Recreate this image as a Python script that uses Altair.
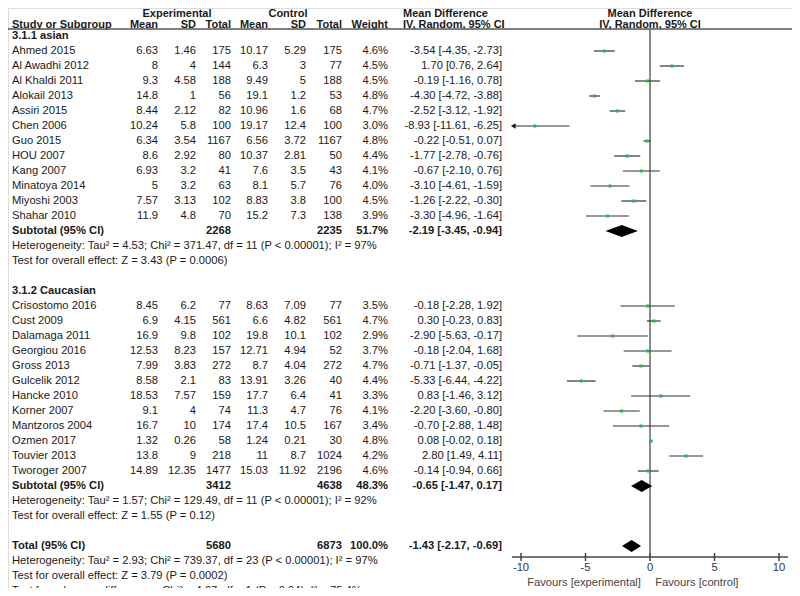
import altair as alt
import pandas as pd

# ---------------- data ----------------
asian_names = ["Ahmed 2015", "Al Awadhi 2012", "Al Khaldi 2011", "Alokail 2013", "Assiri 2015",
               "Chen 2006", "Guo 2015", "HOU 2007", "Kang 2007", "Minatoya 2014", "Miyoshi 2003", "Shahar 2010"]
asian_exp_mean = [6.63, 8, 9.3, 14.8, 8.44, 10.24, 6.34, 8.6, 6.93, 5, 7.57, 11.9]
asian_exp_sd = [1.46, 4, 4.58, 1, 2.12, 5.8, 3.54, 2.92, 3.2, 3.2, 3.13, 4.8]
asian_exp_n = [175, 144, 188, 56, 82, 100, 1167, 80, 41, 63, 102, 70]
asian_ctl_mean = [10.17, 6.3, 9.49, 19.1, 10.96, 19.17, 6.56, 10.37, 7.6, 8.1, 8.83, 15.2]
asian_ctl_sd = [5.29, 3, 5, 1.2, 1.6, 12.4, 3.72, 2.81, 3.5, 5.7, 3.8, 7.3]
asian_ctl_n = [175, 77, 188, 53, 68, 100, 1167, 50, 43, 76, 100, 138]
asian_weight = [4.6, 4.5, 4.5, 4.8, 4.7, 3.0, 4.8, 4.4, 4.1, 4.0, 4.5, 3.9]
asian_md = [-3.54, 1.70, -0.19, -4.30, -2.52, -8.93, -0.22, -1.77, -0.67, -3.10, -1.26, -3.30]
asian_lo = [-4.35, 0.76, -1.16, -4.72, -3.12, -11.61, -0.51, -2.78, -2.10, -4.61, -2.22, -4.96]
asian_hi = [-2.73, 2.64, 0.78, -3.88, -1.92, -6.25, 0.07, -0.76, 0.76, -1.59, -0.30, -1.64]

cauc_names = ["Crisostomo 2016", "Cust 2009", "Dalamaga 2011", "Georgiou 2016", "Gross 2013",
              "Gulcelik 2012", "Hancke 2010", "Korner 2007", "Mantzoros 2004", "Ozmen 2017",
              "Touvier 2013", "Tworoger 2007"]
cauc_exp_mean = [8.45, 6.9, 16.9, 12.53, 7.99, 8.58, 18.53, 9.1, 16.7, 1.32, 13.8, 14.89]
cauc_exp_sd = [6.2, 4.15, 9.8, 8.23, 3.83, 2.1, 7.57, 4, 10, 0.26, 9, 12.35]
cauc_exp_n = [77, 561, 102, 157, 272, 83, 159, 74, 174, 58, 218, 1477]
cauc_ctl_mean = [8.63, 6.6, 19.8, 12.71, 8.7, 13.91, 17.7, 11.3, 17.4, 1.24, 11, 15.03]
cauc_ctl_sd = [7.09, 4.82, 10.1, 4.94, 4.04, 3.26, 6.4, 4.7, 10.5, 0.21, 8.7, 11.92]
cauc_ctl_n = [77, 561, 102, 52, 272, 40, 41, 76, 167, 30, 1024, 2196]
cauc_weight = [3.5, 4.7, 2.9, 3.7, 4.7, 4.4, 3.3, 4.1, 3.4, 4.8, 4.2, 4.6]
cauc_md = [-0.18, 0.30, -2.90, -0.18, -0.71, -5.33, 0.83, -2.20, -0.70, 0.08, 2.80, -0.14]
cauc_lo = [-2.28, -0.23, -5.63, -2.04, -1.37, -6.44, -1.46, -3.60, -2.88, -0.02, 1.49, -0.94]
cauc_hi = [1.92, 0.83, -0.17, 1.68, -0.05, -4.22, 3.12, -0.80, 1.48, 0.18, 4.11, 0.66]

subtotal_labels = ["Subtotal (95% CI)", "Subtotal (95% CI)", "Total (95% CI)"]
subtotal_exp_n = [2268, 3412, 5680]
subtotal_ctl_n = [2235, 4638, 6873]
subtotal_weight = [51.7, 48.3, 100.0]
subtotal_md = [-2.19, -0.65, -1.43]
subtotal_lo = [-3.45, -1.47, -2.17]
subtotal_hi = [-0.94, 0.17, -0.69]

group_titles = ["3.1.1 asian", "3.1.2 Caucasian"]
asian_notes = ["Heterogeneity: Tau\u00b2 = 4.53; Chi\u00b2 = 371.47, df = 11 (P < 0.00001); I\u00b2 = 97%",
               "Test for overall effect: Z = 3.43 (P = 0.0006)"]
cauc_notes = ["Heterogeneity: Tau\u00b2 = 1.57; Chi\u00b2 = 129.49, df = 11 (P < 0.00001); I\u00b2 = 92%",
              "Test for overall effect: Z = 1.55 (P = 0.12)"]
total_notes = ["Heterogeneity: Tau\u00b2 = 2.93; Chi\u00b2 = 739.37, df = 23 (P < 0.00001); I\u00b2 = 97%",
               "Test for overall effect: Z = 3.79 (P = 0.0002)",
               "Test for subgroup differences: Chi\u00b2 = 4.07, df = 1 (P = 0.04), I\u00b2 = 75.4%"]

axis_ticks = [-10, -5, 0, 5, 10]
favours_left = "Favours [experimental]"
favours_right = "Favours [control]"

# ---------------- layout ----------------
W, H = 784, 580
ROW_PX = 15.0
ROW0_PX = 28.0
PX_PER_UNIT = 12.9
ZERO_PX = 642.0
CLIP_LO = -10.6
AXIS_R = 34.73
DIAMOND_HALF = 0.4
FS = 11.2
HFS = 11.0

COLS = [  # field, x pixel, align
    ("study", 4, "left"), ("em", 150, "right"), ("esd", 188, "right"), ("en", 223, "right"),
    ("cm", 260, "right"), ("csd", 298, "right"), ("cn", 334, "right"), ("w", 380, "right"),
    ("ci", 494, "right"),
]
FONT = "Liberation Sans"
TXT = "#1a1a1a"


def num(v):
    return str(v)


def ci_str(m, l, h):
    return f"{m:.2f} [{l:.2f}, {h:.2f}]"


text_rows = []
forest_rows = []
diamond_rows = []


def add_text(r, bold=False, **kw):
    row = {"r": r, "bold": bold}
    for f, _, _ in COLS:
        row[f] = kw.get(f, "")
    text_rows.append(row)


r = 0
groups = [
    (asian_names, asian_exp_mean, asian_exp_sd, asian_exp_n, asian_ctl_mean, asian_ctl_sd, asian_ctl_n,
     asian_weight, asian_md, asian_lo, asian_hi, asian_notes),
    (cauc_names, cauc_exp_mean, cauc_exp_sd, cauc_exp_n, cauc_ctl_mean, cauc_ctl_sd, cauc_ctl_n,
     cauc_weight, cauc_md, cauc_lo, cauc_hi, cauc_notes),
]
for gi, (nm, em, esd, en, cm, csd, cn, w, md, lo, hi, notes) in enumerate(groups):
    add_text(r, True, study=group_titles[gi])
    r += 1
    for i in range(len(nm)):
        add_text(r, False, study=nm[i], em=num(em[i]), esd=num(esd[i]), en=num(en[i]),
                 cm=num(cm[i]), csd=num(csd[i]), cn=num(cn[i]), w=f"{w[i]:.1f}%",
                 ci=ci_str(md[i], lo[i], hi[i]))
        forest_rows.append({"r": r, "md": md[i], "lo": max(lo[i], CLIP_LO), "hi": hi[i],
                            "clipped": lo[i] < CLIP_LO})
        r += 1
    add_text(r, True, study=subtotal_labels[gi], en=num(subtotal_exp_n[gi]), cn=num(subtotal_ctl_n[gi]),
             w=f"{subtotal_weight[gi]:.1f}%", ci=ci_str(subtotal_md[gi], subtotal_lo[gi], subtotal_hi[gi]))
    diamond_rows.append({"g": gi, "r": r, "md": subtotal_md[gi], "lo": subtotal_lo[gi], "hi": subtotal_hi[gi]})
    r += 1
    for n in notes:
        add_text(r, False, study=n)
        r += 1
    r += 1

add_text(r, True, study=subtotal_labels[2], en=num(subtotal_exp_n[2]), cn=num(subtotal_ctl_n[2]),
         w=f"{subtotal_weight[2]:.1f}%", ci=ci_str(subtotal_md[2], subtotal_lo[2], subtotal_hi[2]))
diamond_rows.append({"g": 2, "r": r, "md": subtotal_md[2], "lo": subtotal_lo[2], "hi": subtotal_hi[2]})
r += 1
for n in total_notes:
    add_text(r, False, study=n)
    r += 1

text_df = pd.DataFrame(text_rows)
forest_df = pd.DataFrame(forest_rows)

dia = []
for d in diamond_rows:
    dia.append({"g": d["g"], "x": d["lo"], "yt": d["r"], "yb": d["r"]})
    dia.append({"g": d["g"], "x": d["md"], "yt": d["r"] - DIAMOND_HALF, "yb": d["r"] + DIAMOND_HALF})
    dia.append({"g": d["g"], "x": d["hi"], "yt": d["r"], "yb": d["r"]})
dia_df = pd.DataFrame(dia)

# ---------------- scales ----------------
R_TOP = -ROW0_PX / ROW_PX
yscale = alt.Scale(domain=[R_TOP, (H - ROW0_PX) / ROW_PX], reverse=True, nice=False, zero=False)
xscale = alt.Scale(domain=[-ZERO_PX / PX_PER_UNIT, (W - ZERO_PX) / PX_PER_UNIT], nice=False, zero=False)
Y = lambda f: alt.Y(f, type="quantitative", scale=yscale, axis=None)
X = lambda f: alt.X(f, type="quantitative", scale=xscale, axis=None)

layers = []

# table text
for field, px, align in COLS:
    for bold in (False, True):
        sub = text_df[(text_df["bold"] == bold) & (text_df[field] != "")][["r", field]]
        if len(sub) == 0:
            continue
        layers.append(
            alt.Chart(sub).mark_text(align=align, baseline="middle", font=FONT, fontSize=FS,
                                     fontWeight="bold" if bold else "normal", color=TXT)
            .encode(x=alt.value(px), y=Y("r"), text=alt.Text(f"{field}:N"))
        )

# headers
HDR1 = R_TOP          # drawn with baseline top
HDR2 = -0.74
LINE_R = -0.46
headers_px = [
    ("Experimental", 169, "center", HDR1, "top"), ("Control", 280, "center", HDR1, "top"),
    ("Mean Difference", 395, "left", HDR1, "top"),
    ("Study or Subgroup", 4, "left", HDR2, "middle"), ("Mean", 150, "right", HDR2, "middle"),
    ("SD", 188, "right", HDR2, "middle"), ("Total", 223, "right", HDR2, "middle"),
    ("Mean", 260, "right", HDR2, "middle"), ("SD", 298, "right", HDR2, "middle"),
    ("Total", 334, "right", HDR2, "middle"), ("Weight", 380, "right", HDR2, "middle"),
    ("IV, Random, 95% CI", 395, "left", HDR2, "middle"),
]
for txt, px, align, rr, bl in headers_px:
    layers.append(
        alt.Chart(pd.DataFrame({"r": [rr], "t": [txt]}))
        .mark_text(align=align, baseline=bl, font=FONT, fontSize=HFS, fontWeight="bold", color=TXT)
        .encode(x=alt.value(px), y=Y("r"), text="t:N")
    )
for rr, txt, bl in [(HDR1, "Mean Difference", "top"), (HDR2, "IV, Random, 95% CI", "middle")]:
    layers.append(
        alt.Chart(pd.DataFrame({"x": [0], "r": [rr], "t": [txt]}))
        .mark_text(align="center", baseline=bl, font=FONT, fontSize=HFS, fontWeight="bold", color=TXT)
        .encode(x=X("x"), y=Y("r"), text="t:N")
    )

# header line
layers.append(
    alt.Chart(pd.DataFrame({"r": [LINE_R]})).mark_rule(color="#555", strokeWidth=1.5)
    .encode(x=alt.value(0), x2=alt.value(W), y=Y("r"))
)

# zero line
layers.append(
    alt.Chart(pd.DataFrame({"x": [0], "r": [LINE_R], "r2": [AXIS_R]})).mark_rule(color="#666", strokeWidth=1.5)
    .encode(x=X("x"), y=Y("r"), y2="r2:Q")
)

# CI lines
layers.append(
    alt.Chart(forest_df).mark_rule(color="#333", strokeWidth=1.2)
    .encode(x=X("lo"), x2="hi:Q", y=Y("r"))
)
# arrows for clipped
clip_df = forest_df[forest_df["clipped"]]
layers.append(
    alt.Chart(clip_df).mark_point(shape="triangle-left", filled=True, size=28, color="#111", opacity=1)
    .encode(x=X("lo"), y=Y("r"))
)
# points
layers.append(
    alt.Chart(forest_df).mark_square(size=9, color="#2db34a", opacity=1)
    .encode(x=X("md"), y=Y("r"))
)
# diamonds
layers.append(
    alt.Chart(dia_df).mark_area(orient="vertical", color="black", opacity=1)
    .encode(x=X("x"), y=Y("yt"), y2="yb:Q", detail="g:N")
)

# axis
layers.append(
    alt.Chart(pd.DataFrame({"x": [-10.7], "x2": [10.7], "r": [AXIS_R]})).mark_rule(color="#444", strokeWidth=1.5)
    .encode(x=X("x"), x2="x2:Q", y=Y("r"))
)
tick_df = pd.DataFrame({"x": axis_ticks, "r": [AXIS_R - 0.27] * 5, "r2": [AXIS_R + 0.27] * 5,
                        "lab": [str(t) for t in axis_ticks], "rl": [AXIS_R + 0.75] * 5})
layers.append(
    alt.Chart(tick_df).mark_rule(color="#444", strokeWidth=1.5)
    .encode(x=X("x"), y=Y("r"), y2="r2:Q")
)
layers.append(
    alt.Chart(tick_df).mark_text(align="center", baseline="middle", font=FONT, fontSize=FS, color="#333")
    .encode(x=X("x"), y=Y("rl"), text="lab:N")
)
fav_df = pd.DataFrame({"x": [-0.7, 0.4], "r": [AXIS_R + 1.75] * 2, "t": [favours_left, favours_right]})
layers.append(
    alt.Chart(fav_df.iloc[[0]]).mark_text(align="right", baseline="middle", font=FONT, fontSize=FS, color="#444")
    .encode(x=X("x"), y=Y("r"), text="t:N")
)
layers.append(
    alt.Chart(fav_df.iloc[[1]]).mark_text(align="left", baseline="middle", font=FONT, fontSize=FS, color="#444")
    .encode(x=X("x"), y=Y("r"), text="t:N")
)

chart = alt.layer(*layers).properties(
    width=W, height=H, autosize=alt.AutoSizeParams(type="none"), padding=0
).configure_view(stroke=None).configure(background="white")

chart.save("out.html", embed_options={"renderer": "svg", "actions": False})
